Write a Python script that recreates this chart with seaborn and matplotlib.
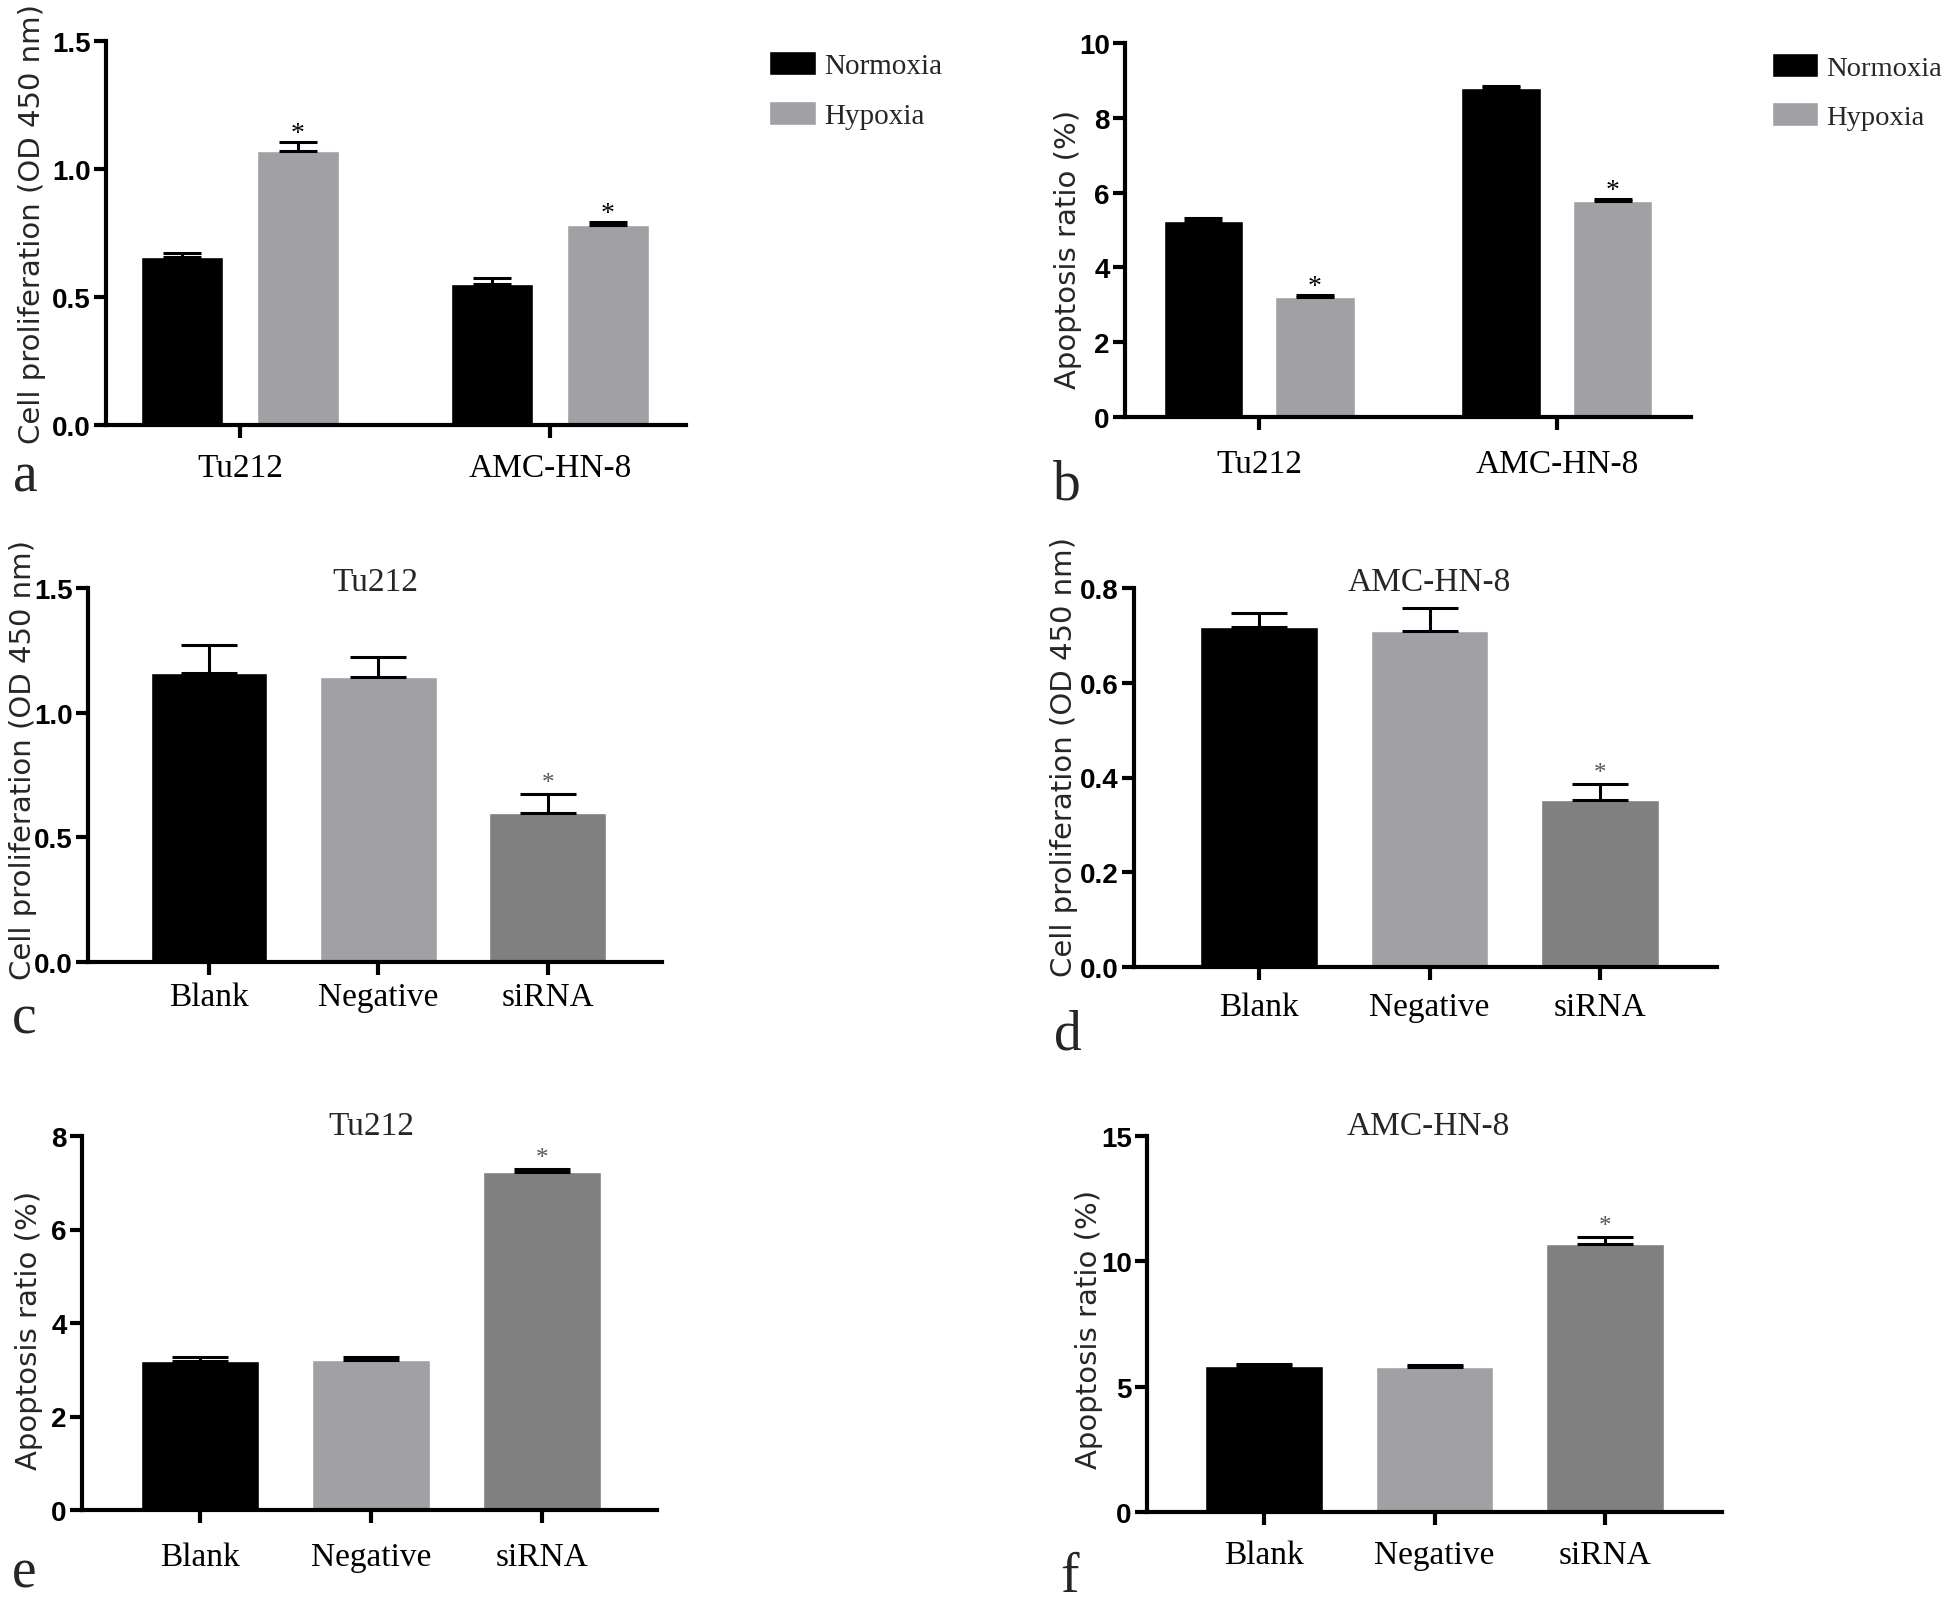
import numpy as np
import pandas as pd
import matplotlib
matplotlib.use('Agg')
import matplotlib.pyplot as plt
import seaborn as sns

# categories
cell_lines = ['Tu212', 'AMC-HN-8']
conditions = ['Normoxia', 'Hypoxia']
groups = ['Blank', 'Negative', 'siRNA']

# a: proliferation, normoxia vs hypoxia
prolif_normoxia = [0.657, 0.550]
prolif_normoxia_err = [0.013, 0.023]
prolif_hypoxia = [1.072, 0.781]
prolif_hypoxia_err = [0.035, 0.013]

# b: apoptosis, normoxia vs hypoxia
apop_normoxia = [5.23, 8.81]
apop_normoxia_err = [0.09, 0.04]
apop_hypoxia = [3.21, 5.78]
apop_hypoxia_err = [0.06, 0.04]

# c / d: proliferation after siRNA
prolif_tu212 = [1.158, 1.143, 0.597]
prolif_tu212_err = [0.114, 0.079, 0.078]
prolif_amc = [0.717, 0.710, 0.353]
prolif_amc_err = [0.031, 0.047, 0.033]

# e / f: apoptosis after siRNA
apop_tu212 = [3.19, 3.21, 7.22]
apop_tu212_err = [0.09, 0.07, 0.07]
apop_amc = [5.81, 5.79, 10.70]
apop_amc_err = [0.08, 0.08, 0.26]

# tick labels
ticks_a = ['0.0', '0.5', '1.0', '1.5']
ticks_b = ['0', '2', '4', '6', '8', '10']
ticks_c = ['0.0', '0.5', '1.0', '1.5']
ticks_d = ['0.0', '0.2', '0.4', '0.6', '0.8']
ticks_e = ['0', '2', '4', '6', '8']
ticks_f = ['0', '5', '10', '15']

BLACK = '#000000'
LIGHT = '#a1a1a5'
DARK = '#808080'
SERIF = ['Liberation Serif', 'DejaVu Serif']
SANS = ['Liberation Sans', 'DejaVu Sans']

sns.set_theme(style='ticks')
plt.rcParams['font.family'] = SERIF
plt.rcParams['axes.linewidth'] = 3
plt.rcParams['axes.edgecolor'] = 'black'

fig = plt.figure(figsize=(19.44, 16.06), dpi=100)
W, H = 1944, 1606


def make_axes(left, top, right, bottom):
    return fig.add_axes([left / W, 1 - bottom / H, (right - left) / W, (bottom - top) / H])


def style(ax, ticklabels, xlabels, xlim, ylabel, label_xy, xpad):
    yt = [float(t) for t in ticklabels]
    ax.set_ylim(0, yt[-1])
    ax.set_xlim(*xlim)
    ax.set_yticks(yt, labels=ticklabels, fontfamily=SANS, fontweight='bold', fontsize=20)
    ax.set_xticks(range(len(xlabels)), labels=xlabels, fontfamily=SERIF, fontsize=24)
    ax.tick_params(axis='y', length=9, width=3, pad=2, colors='black')
    ax.tick_params(axis='x', length=9, width=3, pad=xpad, colors='black')
    ax.set_xlabel('')
    ax.set_ylabel(ylabel, fontfamily=['DejaVu Sans'], fontsize=21)
    ax.yaxis.set_label_coords(*label_xy)
    sns.despine(ax=ax)


def add_errors(ax, errs, capsize):
    for container, err in zip(ax.containers, errs):
        xs = [b.get_x() + b.get_width() / 2 for b in container]
        hs = [b.get_height() for b in container]
        ax.errorbar(xs, hs, yerr=[np.zeros(len(err)), err], fmt='none', ecolor='black',
                    elinewidth=2.2, capthick=2.2, capsize=capsize, zorder=5)


def add_star(ax, x, y, size, color, off):
    ax.annotate('*', xy=(x, y), xytext=(0, off), textcoords='offset points',
                ha='center', va='baseline', fontsize=size, color=color, fontfamily=SERIF)


def hue_panel(ax, normo, normo_err, hypo, hypo_err):
    df = pd.DataFrame({'line': cell_lines * 2,
                       'cond': [c for c in conditions for _ in cell_lines],
                       'val': normo + hypo})
    sns.barplot(data=df, x='line', y='val', hue='cond', palette=[BLACK, LIGHT],
                width=0.75, gap=0.29, errorbar=None, saturation=1, ax=ax)
    add_errors(ax, [normo_err, hypo_err], 14)
    for b, e in zip(ax.containers[1], hypo_err):
        add_star(ax, b.get_x() + b.get_width() / 2, b.get_height() + e, 20, 'black', 1.5)


def group_panel(ax, vals, errs, title, title_xy):
    df = pd.DataFrame({'group': groups, 'val': vals})
    sns.barplot(data=df, x='group', y='val', hue='group', palette=[BLACK, LIGHT, DARK],
                width=0.69, errorbar=None, saturation=1, legend=False, ax=ax)
    add_errors(ax, [[e] for e in errs], 20)
    b = ax.containers[2][0]
    add_star(ax, b.get_x() + b.get_width() / 2, b.get_height() + errs[2], 18, '#555555', 3.5)
    ax.text(*title_xy, title, transform=ax.transAxes, ha='center', va='center', fontsize=24)


def place_legend(ax, x, y, size):
    sns.move_legend(ax, 'upper left', bbox_to_anchor=(x / W, 1 - y / H), bbox_transform=fig.transFigure,
                    title=None, frameon=False, fontsize=size, handlelength=1.6, handleheight=0.9,
                    labelspacing=0.75, handletextpad=0.3, borderpad=0, borderaxespad=0)


# a
ax_a = make_axes(106, 42, 686, 426)
hue_panel(ax_a, prolif_normoxia, prolif_normoxia_err, prolif_hypoxia, prolif_hypoxia_err)
style(ax_a, ticks_a, cell_lines, (-0.432, 1.439), 'Cell proliferation (OD 450 nm)', (-0.103, 0.527), 11)
place_legend(ax_a, 769, 52, 21)

# b
ax_b = make_axes(1125, 44, 1691, 418)
hue_panel(ax_b, apop_normoxia, apop_normoxia_err, apop_hypoxia, apop_hypoxia_err)
style(ax_b, ticks_b, cell_lines, (-0.45, 1.45), 'Apoptosis ratio (%)', (-0.076, 0.45), 14)
place_legend(ax_b, 1772, 54, 20.5)

# c
ax_c = make_axes(88, 589, 662, 963)
group_panel(ax_c, prolif_tu212, prolif_tu212_err, 'Tu212', (0.5, 1.016))
style(ax_c, ticks_c, groups, (-0.714, 2.673), 'Cell proliferation (OD 450 nm)', (-0.089, 0.543), 5)

# d
ax_d = make_axes(1134, 589, 1717, 968)
group_panel(ax_d, prolif_amc, prolif_amc_err, 'AMC-HN-8', (0.506, 1.016))
style(ax_d, ticks_d, groups, (-0.733, 2.686), 'Cell proliferation (OD 450 nm)', (-0.096, 0.557), 9)

# e
ax_e = make_axes(82, 1137, 657, 1511)
group_panel(ax_e, apop_tu212, apop_tu212_err, 'Tu212', (0.504, 1.027))
style(ax_e, ticks_e, groups, (-0.69, 2.67), 'Apoptosis ratio (%)', (-0.068, 0.484), 14)

# f
ax_f = make_axes(1147, 1137, 1722, 1513)
group_panel(ax_f, apop_amc, apop_amc_err, 'AMC-HN-8', (0.489, 1.027))
style(ax_f, ticks_f, groups, (-0.686, 2.686), 'Apoptosis ratio (%)', (-0.077, 0.489), 11)

# panel letters
for letter, x, y in [('a', 13, 492), ('b', 1053, 500), ('c', 12, 1033),
                     ('d', 1054, 1050), ('e', 12, 1588), ('f', 1060, 1592)]:
    fig.text(x / W, 1 - y / H, letter, fontsize=40, va='baseline', ha='left', fontfamily=SERIF)

fig.savefig('out.png', dpi=100)
